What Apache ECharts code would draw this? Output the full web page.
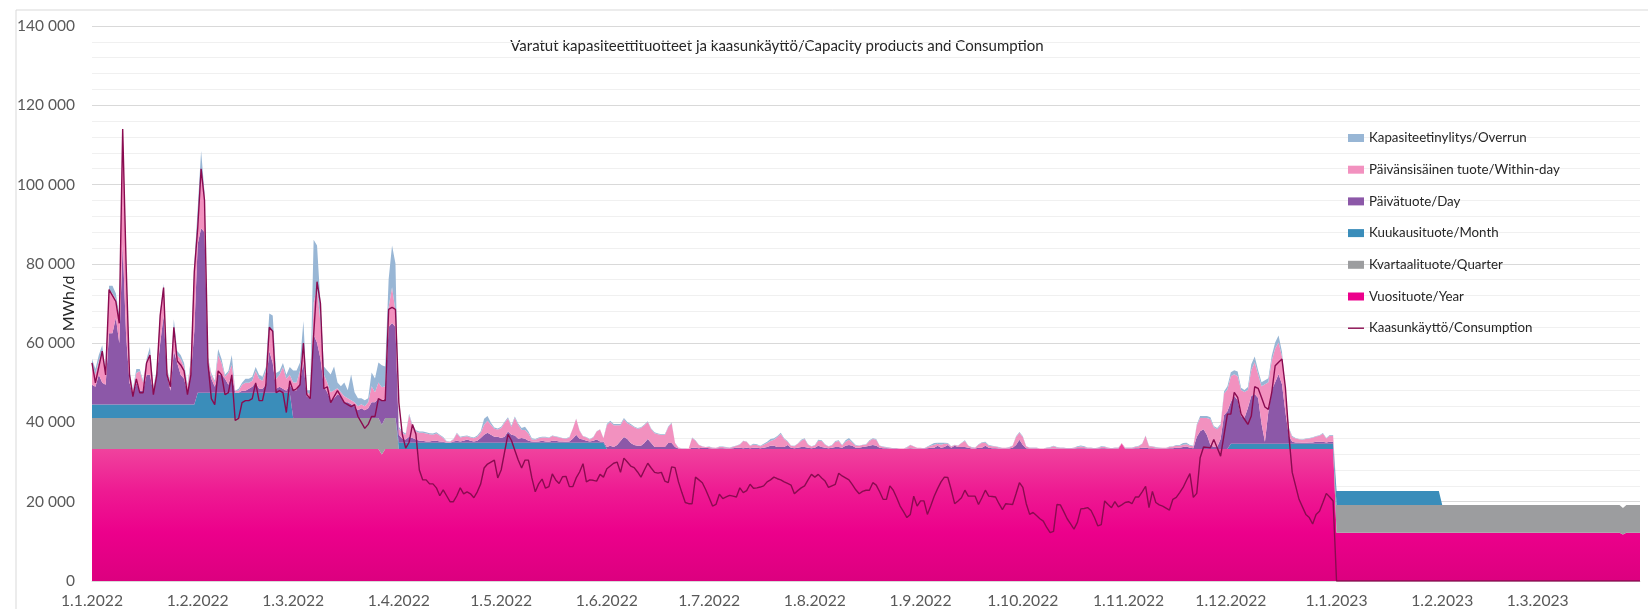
<!DOCTYPE html>
<html>
<head>
<meta charset="utf-8">
<script src="https://cdn.jsdelivr.net/npm/echarts@6/dist/echarts.min.js"></script>
<style>
  html, body { margin: 0; padding: 0; background: #fff; }
  #main { width: 1648px; height: 609px; }
</style>
</head>
<body>
<div id="main"></div>
<script>
// one point per day, 1.1.2022 - 31.3.2023
var firstDay = '2022-01-01';
var dayCount = 455;

// constant products as [first day, MWh/d] change points
var yearSteps = [
  ['2022-01-01', 33300], ['2022-03-27', 31900], ['2022-03-28', 33300],
  ['2022-10-30', 34700], ['2022-10-31', 33300],
  ['2023-01-01', 12200], ['2023-03-26', 11700], ['2023-03-27', 12200]
];
var quarterSteps = [
  ['2022-01-01', 7800], ['2022-03-27', 7500], ['2022-03-28', 7800], ['2022-04-01', 0],
  ['2023-01-01', 7000], ['2023-03-26', 6700], ['2023-03-27', 7000]
];
var monthSteps = [
  ['2022-01-01', 3400], ['2022-02-01', 6400], ['2022-03-01', 0],
  ['2022-04-01', 1600], ['2022-06-01', 0], ['2022-12-01', 1350],
  ['2023-01-01', 3500], ['2023-02-01', 0]
];

// daily values 2022, thousand MWh/d (one row per month)
var dayProduct2022 = [
  5,4.5,7.5,5.5,5,18,18,22,15.5,40.5,17.5,5.5,2.5,5.5,3.5,3.5,7.5,7.5,3,7.5,15.5,22.5,7.5,3.5,13.5,10.5,7.5,6.5,3,7.5,18.5,
  37.5,41.5,40.5,7.5,3.5,1.5,4.5,4.5,3.5,2,4.5,0,0,0.5,0.5,1,1.5,2.5,1,1,2,10.5,7.5,1,1.5,1,0.5,2,
  7,7,9,14,5.5,5,21,19,15,8,6.5,4.5,5,6,5.5,4,4,3.5,3,2,2.5,2,2.5,4,4,5,6,5,23,24,23,
  2,1,0.8,1.5,1.2,0.8,0.5,0.5,0.3,0.3,0.5,0.5,0.3,0.2,0,0,0.3,0.5,0.3,0.5,0.8,0.5,0.3,0.5,1.2,2,2.5,2,1.5,1.5,
  1.2,1.5,2.8,2,1.8,1,1.2,1,0.5,0.3,0.2,0.3,0.5,0.3,0.2,0.5,0.5,0.3,0.3,0.2,0.3,1,2,1,0.8,0.5,0.3,0.5,0.8,0.3,0.3,
  0.5,0.8,0.5,1,2,3,2.5,1.5,1,0.8,0.8,1.5,2.5,1.5,0.5,0.5,0.5,0.5,1.5,1.5,0.5,0.1,0,0,0,0.3,0.3,0.2,0.3,0.3,
  0.2,0.1,0.1,0.2,0.2,0.1,0.1,0.2,0.3,0.3,0.2,0.3,0.2,0.3,0.3,0.2,0.3,0.5,0.8,0.8,0.5,0.5,0.5,1,0.3,0.2,0.3,0.5,0.5,0.3,0.2,
  0.3,0.8,0.5,0.3,0.2,0.3,0.5,0.5,0.3,0.8,1,0.8,0.3,0.3,0.5,0.6,0.8,1,0.8,0.3,0.2,0.2,0.1,0.1,0.1,0,0,0.1,0.2,0.1,0.1,
  0.1,0.1,0.2,0.3,0.3,0.8,0.3,0.5,1,0.3,0.8,0.5,0.5,0.5,0.3,0.1,0.1,0.3,0.3,0.8,0.3,0.2,0.2,0.1,0.1,0.1,0.1,0.3,1,2.3,
  1,0.2,0.1,0.1,0.1,0,0,0.1,0.1,0.1,0.1,0.1,0.1,0.1,0.1,0.1,0.2,0.2,0.2,0.1,0.1,0.1,0.1,0.2,0.2,0.1,0.1,0.1,0.1,0,0.1,
  0.1,0.1,0.2,0.2,0.3,0.3,0.2,0.2,0.1,0.1,0.1,0.1,0.2,0.2,0.3,0.3,0.5,0.6,0.3,0.2,3,4.5,5,3.5,1,0.5,0.5,2.5,8.5,9.5,
  10.5,12,11,7,6.5,9,12,12.5,11.5,5,0.5,8,13.5,15.5,17.5,15,8,2,0.5,0.3,0.3,0.2,0.2,0.3,0.3,0.5,0.5,0.5,0.3,0.5,0.5
];
var withinDay2022 = [
  5.5,3,3.5,8,3,11,10,4.5,6,28.5,18,2.5,1,2.5,5,2,3.5,5.5,1,1,7,7,1,2,6,2,4,3,1.5,3,15,
  5,15,9,1,1,1,5,3,0.5,3,2.5,0.5,0.5,1.5,2,1.5,1.5,3,2.5,2,3.5,6,8,2.5,3,5.5,3,2.5,
  2,2,3,5,1,1,8,14,9,3,2.5,2,2,1.5,1,1.5,1,1,1,1,1,1,1.5,4,2.5,4,3.5,3,5,9,4,
  1.5,1.5,1.2,5.5,3,2,2,2,2,1.8,1.5,1.8,1.5,1,0.3,0.2,0.5,1.8,1,1,0.8,0.8,0.8,1,1.3,2.5,3,2.5,2,1.8,
  2.5,3.5,3.3,2,4.5,3.5,2,2.2,1.8,0.5,0.5,0.8,0.8,1,1,1.2,1,1,0.8,0.8,1,2.5,4,2,0.8,0.8,0.5,0.8,2,3,0.8,
  5.5,6,5.5,5,4,4.5,4,4.5,4.5,4.3,4.5,4.5,4.3,3.5,3.5,3.2,3,3,4,5,1,0.2,0.1,0.1,0.1,2.5,1.8,0.8,0.3,0.2,
  0.3,0.2,0.2,0.3,0.3,0.3,0.2,0.3,0.5,0.8,1.8,1.5,0.6,0.8,0.7,0.5,0.8,1,1.2,1.5,2.5,3.3,2,0.8,0.5,0.5,1,1.6,2,0.8,0.4,
  0.6,1.3,1.5,0.8,0.4,0.6,1.3,1.5,0.6,1,1.3,0.8,0.5,0.5,0.5,0.5,1.2,1.5,1.5,0.5,0.3,0.2,0.2,0.1,0.1,0.1,0.1,0.3,0.8,0.5,0.2,
  0.2,0.1,0.3,0.5,0.8,0.5,0.8,0.8,0.3,0.3,0.2,0.3,1,1.5,0.5,0.3,0.2,0.8,1.3,0.8,0.5,0.5,0.4,0.3,0.2,0.2,0.3,0.5,2,1.8,
  2,0.4,0.2,0.2,0.2,0.1,0.1,0.2,0.3,0.6,0.3,0.2,0.2,0.1,0.1,0.2,0.3,0.4,0.3,0.2,0.2,0.1,0.2,0.3,0.3,0.2,0.1,0.2,0.2,0.1,0.2,
  0.2,0.2,0.3,0.5,1,3,0.5,0.4,0.3,0.2,0.2,0.2,0.3,0.4,0.5,0.5,0.6,0.6,0.5,0.5,2.9,3.3,2.8,4.3,6.5,5,4.5,3.5,5.5,5.5,
  6.5,5.5,6,6.5,6.5,4.5,6.5,8,6,9.5,14.5,7.5,7.5,8.5,8,7,5,1.8,1.2,1,0.8,0.8,1,1,1.2,1.3,1.5,2,1,1.5,1.5
];
var overrun2022 = [
  1,1.5,1.5,1.5,0.5,1,2,1.5,1,1,0.5,0.5,0.5,1,0.5,0.5,0.5,1.5,0.5,0.5,1,1,0.5,0.5,2,1,1,1,0.5,1,2,
  4,4.5,1,0.5,0.5,0.5,1.5,1,0.5,0.5,2.5,0,0.5,0.5,1,1,1,1,1,1,1,3.5,4,1.5,1,1,1,2,
  3,3,2,5.5,0.5,1,16,10.5,5,2,3,4.5,6,1.5,1.5,3.5,2,6.5,2.5,2,1.5,1.5,1,3.5,3.5,5,5.5,5,7,10.5,12,
  0.5,0.3,0.3,0.3,0.3,0.3,0.3,0.3,0.3,0.3,0.3,0.3,0.2,0.2,0.1,0.1,0.1,0.2,0.2,0.2,0.2,0.2,0.2,0.3,0.4,1.5,1.2,0.5,0.3,0.3,
  0.3,0.3,0.3,0.3,0.3,0.3,0.5,0.8,0.5,0.3,0.2,0.2,0.2,0.2,0.1,0.1,0.1,0.1,0.1,0.1,0.1,0.1,0.1,0.1,0.1,0.1,0.1,0.1,0.1,0.1,0.1,
  0.3,0.3,0.3,0.3,0.3,0.3,0.3,0.3,0.2,0.2,0.2,0.2,0.2,0.2,0.2,0.2,0.2,0.2,0.2,0.2,0.1,0.1,0.1,0.1,0,0.1,0.1,0.1,0.1,0,
  0.1,0.1,0,0.1,0.1,0.1,0.1,0.1,0.1,0.1,0.1,0.1,0.1,0.2,0.2,0.1,0.2,0.3,0.5,0.4,0.3,0.3,0.2,0.2,0.1,0.1,0.1,0.2,0.2,0.1,0.1,
  0.1,0.2,0.2,0.1,0.1,0.1,0.2,0.2,0.1,0.4,0.5,0.3,0.2,0.1,0.1,0.1,0.2,0.2,0.2,0.1,0.1,0.1,0.1,0,0,0,0,0.1,0.1,0.1,0,
  0,0,0.1,0.3,0.4,0.3,0.5,0.3,0.2,0.1,0.1,0.1,0.1,0.2,0.1,0.1,0.1,0.1,0.1,0.2,0.2,0.1,0.1,0.1,0,0,0.1,0.1,0.2,0.2,
  0.2,0.1,0.1,0.1,0.1,0,0,0.1,0.1,0.1,0.1,0.1,0.1,0,0,0.1,0.2,0.3,0.2,0.1,0.1,0,0.1,0.2,0.1,0.1,0,0.1,0.1,0,0.1,
  0.1,0.1,0.1,0.1,0.1,0.1,0.1,0.1,0.1,0.1,0,0,0.1,0.1,0.2,0.2,0.4,0.4,0.2,0.1,0.3,0.5,0.5,0.5,0.5,0.3,0.3,0.3,0.5,0.8,
  1,1,1.2,0.6,0.5,0.8,1.5,1.5,1,1,1,1,1.2,1.5,1.8,1.2,0.8,0.3,0.2,0.1,0.1,0.1,0.1,0.1,0.1,0.1,0.1,0.2,0.1,0.2,0.2
];
var consumption2022 = [
  55,50,54,58,52,73.5,72,70.5,65,114,80,52,46.5,51,47.5,47.5,55,57,47,52,67,74,52,49,64,55.5,54.5,53,47,52,78,
  89,104,96,55,46,44.5,53,52,47,47.5,52,40.5,41,45,45.5,45.5,46,50,45.5,45.5,49.5,64,63,47.5,48,47.5,42.5,50.5,
  48,48.5,49.5,60,47,46,62,75.5,70,48.5,49,45,46.5,48,46.5,45,44.5,44,44.5,41.5,40,38.5,39.5,41.5,41.5,46,45.5,45.5,68.5,69,68.5,
  45,37,33.5,35,39.5,37,28,25.5,25.5,24.5,24.5,23.5,21.5,23,21.5,20,20,21.5,23.5,22,22.5,22,21,22.5,24.5,28.5,29.5,30,30.5,26,
  28,32.5,37,35.5,33,30.5,28.5,30.5,30.5,26,22.5,24.5,25.7,23.4,23.8,27,25.5,24.6,26.3,26.4,23.8,23.8,26,27.5,29.6,25,25.5,25.4,25.2,26.9,26.2,
  28.3,29,29.7,30,27.4,31,30,29,28.6,27.5,26.2,28,29.7,28.5,27.4,27.2,27.4,25.2,24.8,28.8,28.6,25,22.3,19.8,19.5,19.5,26.2,25.5,24.8,23,
  21,18.9,19.3,21.9,20.8,21.2,21.6,21.4,21.2,23.5,22.3,22.8,24.4,23.4,23.5,23.7,24,25,25.5,26.2,25.8,25.5,25,24.6,24.2,22,22.8,23.5,24,25.5,26.9,
  26.2,26.9,26,25.2,23.6,24,24.4,27.2,26.5,26,25.5,24.3,23,22,22.6,22.9,22.9,24.8,24.2,22.5,20.6,20.6,24,22.9,21,18.9,17.5,16,16.8,21.4,18.9,
  20.2,20.2,16.8,19,21.4,23.3,25,26.2,26.1,23,19.5,20.2,21,22.9,21.4,21.4,21.4,19.3,21,22.9,21.4,21.3,21.2,19.5,18,19.5,19.4,19.3,22,24.8,
  23.6,19.5,16.8,17.3,16.5,15.7,15.1,13.5,12.2,12.5,19.3,19.2,17.5,15.7,14.4,13.1,14.8,18.2,18.3,18.5,17.8,16,13.9,14.2,20.2,19.3,18.5,20,18.7,19.2,19.8,
  20,19.5,21.2,21.2,22.5,23.9,18.5,22.6,19.8,19.2,18.9,18.4,17.9,20.6,21.1,22.3,23.6,25.4,27.1,21.1,22.1,31.1,33.8,33.7,33.6,35.7,33.6,31.5,36.8,42.1,
  42.1,47.6,46.3,42.1,40.8,39.5,41.6,49,48.6,46.3,43.9,43.3,47.6,54.3,55.2,56,48.8,37,27.4,24,20.6,18.7,16.8,16,14.4,16.8,17.6,19.8,22.1,21.2,20.2
];
// Jan-Mar 2023: no day products and no consumption, thousand MWh/d
var values2023 = [
  0,0,0,0,0,0,0,0,0,0,0,0,0,0,0,0,0,0,0,0,0,0,0,0,0,0,0,0,0,0,0,
  0,0,0,0,0,0,0,0,0,0,0,0,0,0,0,0,0,0,0,0,0,0,0,0,0,0,0,0,
  0,0,0,0,0,0,0,0,0,0,0,0,0,0,0,0,0,0,0,0,0,0,0,0,0,0,0,0,0,0,0
];

var yTicks = [0, 20000, 40000, 60000, 80000, 100000, 120000, 140000];

var names = {
  overrun: 'Kapasiteetinylitys/Overrun',
  within: 'Päivänsisäinen tuote/Within-day',
  day: 'Päivätuote/Day',
  month: 'Kuukausituote/Month',
  quarter: 'Kvartaalituote/Quarter',
  year: 'Vuosituote/Year',
  cons: 'Kaasunkäyttö/Consumption'
};

// categories
var isoDates = [], labels = [];
var d0 = new Date(firstDay + 'T00:00:00Z');
for (var i = 0; i < dayCount; i++) {
  var d = new Date(d0.getTime() + i * 86400000);
  isoDates.push(d.toISOString().slice(0, 10));
  labels.push(d.getUTCDate() + '.' + (d.getUTCMonth() + 1) + '.' + d.getUTCFullYear());
}

function fromSteps(steps) {
  return isoDates.map(function (iso) {
    var v = 0;
    steps.forEach(function (s) { if (s[0] <= iso) v = s[1]; });
    return v;
  });
}
function fromDaily(k2022) {
  return k2022.concat(values2023).map(function (v) { return Math.round(v * 1000); });
}

function fmt(v) {
  return String(v).replace(/\B(?=(\d{3})+(?!\d))/g, ' ');
}

function area(name, data, color, fill) {
  return {
    name: name, type: 'line', stack: 'total', data: data,
    symbol: 'none', showSymbol: false, color: color,
    lineStyle: { width: 0 },
    areaStyle: { color: fill || color, opacity: 1 },
    emphasis: { disabled: true }
  };
}

var yearFill = new echarts.graphic.LinearGradient(0, 0, 0, 1, [
  { offset: 0, color: '#f0489f' },
  { offset: 0.35, color: '#ee1a92' },
  { offset: 0.65, color: '#ec008b' },
  { offset: 1, color: '#dc007f' }
]);

var dom = document.getElementById('main');
var myChart = echarts.init(dom);

var option = {
  animation: false,
  textStyle: { fontFamily: 'Lato' },
  grid: { left: 92, right: 8, top: 26, bottom: 28, outerBoundsMode: 'none', containLabel: false },
  graphic: [
    { type: 'rect', shape: { x: 16, y: 10, width: 1700, height: 700 },
      style: { fill: 'none', stroke: '#d9d9d9', lineWidth: 1 }, silent: true, z: -10 },
    { type: 'text', x: 777, y: 46,
      style: { text: 'Varatut kapasiteettituotteet ja kaasunkäyttö/Capacity products and Consumption',
        fontFamily: 'Lato', fontSize: 15, fill: '#262626', align: 'center', verticalAlign: 'middle' } }
  ],
  legend: {
    orient: 'vertical', left: 1348, top: 130, padding: 0,
    itemWidth: 16, itemHeight: 8, itemGap: 15.7,
    textStyle: { fontSize: 13.3, color: '#262626', lineHeight: 16 },
    data: [
      { name: names.overrun, icon: 'rect' },
      { name: names.within, icon: 'rect' },
      { name: names.day, icon: 'rect' },
      { name: names.month, icon: 'rect' },
      { name: names.quarter, icon: 'rect' },
      { name: names.year, icon: 'rect' },
      { name: names.cons, icon: 'path://M0,0L16,0L16,1.4L0,1.4Z' }
    ]
  },
  xAxis: {
    type: 'category', data: labels, boundaryGap: false,
    axisLine: { lineStyle: { color: '#d9d9d9' } },
    axisTick: { show: false },
    axisLabel: {
      color: '#595959', fontSize: 15.7, margin: 12,
      interval: function (idx, val) { return val.split('.')[0] === '1'; }
    },
    splitLine: { show: false }
  },
  yAxis: {
    type: 'value', min: yTicks[0], max: yTicks[yTicks.length - 1], interval: yTicks[1] - yTicks[0],
    name: 'MWh/d', nameLocation: 'middle', nameGap: 15, nameRotate: 90, nameMoveOverlap: false,
    nameTextStyle: { fontSize: 16, color: '#262626' },
    axisLine: { show: false }, axisTick: { show: false },
    axisLabel: { color: '#595959', fontSize: 15.5, margin: 17, formatter: fmt },
    splitLine: { lineStyle: { color: '#d9d9d9' } },
    minorTick: { show: false, splitNumber: 5 },
    minorSplitLine: { show: true, lineStyle: { color: '#f0f0f0' } }
  },
  series: [
    area(names.year, fromSteps(yearSteps), '#ec008c', yearFill),
    area(names.quarter, fromSteps(quarterSteps), '#9c9d9f'),
    area(names.month, fromSteps(monthSteps), '#3a8dba'),
    area(names.day, fromDaily(dayProduct2022), '#8c58a8'),
    area(names.within, fromDaily(withinDay2022), '#f291bf'),
    area(names.overrun, fromDaily(overrun2022), '#98b6d5'),
    {
      name: names.cons, type: 'line', data: fromDaily(consumption2022),
      symbol: 'none', showSymbol: false, color: '#8a0b50',
      lineStyle: { width: 1.4, color: '#8a0b50' }, z: 5,
      emphasis: { disabled: true }
    }
  ]
};
myChart.setOption(option, true);
</script>
</body>
</html>
